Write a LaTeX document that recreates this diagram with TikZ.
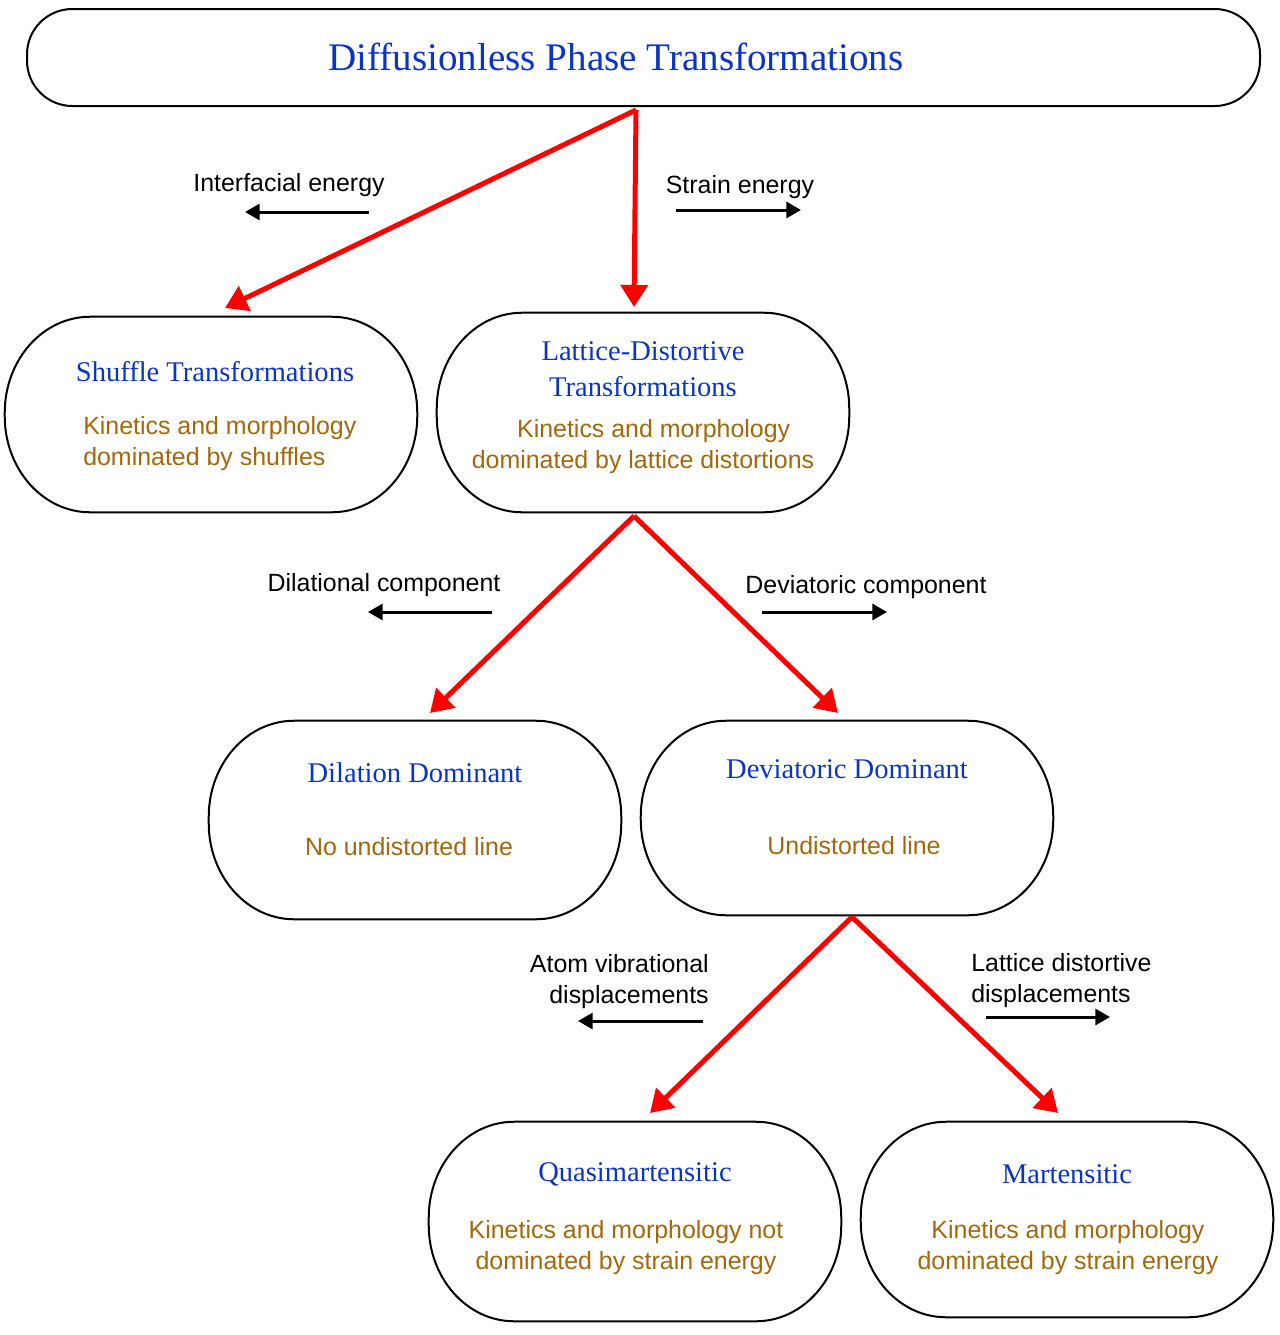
\documentclass[tikz,border=0pt]{standalone}
\usepackage{fontspec}
\setmainfont{Liberation Serif}
\newfontfamily\lsans{Liberation Sans}
\usetikzlibrary{arrows.meta}
\definecolor{tblue}{RGB}{10,52,200}
\definecolor{tbrown}{RGB}{164,103,10}
\newcommand\stadiumbox[1]{%
  \draw[boxline] ([xshift=64pt]#1.north west) -- ([xshift=-64pt]#1.north east)
    arc[start angle=90,end angle=0,x radius=64pt,y radius=72pt]
    -- ([yshift=72pt]#1.south east)
    arc[start angle=0,end angle=-90,x radius=64pt,y radius=72pt]
    -- ([xshift=64pt]#1.south west)
    arc[start angle=270,end angle=180,x radius=64pt,y radius=72pt]
    -- ([yshift=-72pt]#1.north west)
    arc[start angle=180,end angle=90,x radius=64pt,y radius=72pt] -- cycle;}
\begin{document}
\begin{tikzpicture}[x=0.75pt,y=-0.75pt,
  boxline/.style={draw=black,line width=1.5pt},
  box/.style={draw=none,minimum width=309pt,inner sep=0pt},
  ttl/.style={text=tblue,font=\fontsize{21.4}{27}\selectfont,align=center,inner sep=0pt},
  desc/.style={text=tbrown,font=\lsans\fontsize{18.7}{23.25}\selectfont,inner sep=0pt},
  lbl/.style={text=black,font=\lsans\fontsize{18.7}{23.25}\selectfont,inner sep=0pt},
  redarrow/.style={draw=red,line width=3.75pt,-{Triangle[length=16.5pt,width=20pt]}},
  blackarrow/.style={draw=black,line width=2.25pt,-{Triangle[length=11pt,width=12pt]}}]
\useasboundingbox (0,0) rectangle (1280,1335);
% boxes
\node[boxline,rounded corners=34pt,minimum width=924.75pt,minimum height=72.75pt,inner sep=0pt] (title) at (643.5,57.5) {};
\node[box,minimum height=146.25pt] (shuffle) at (211,414.5) {};
\node[box,minimum height=149.25pt] (lattice) at (643,412.5) {};
\node[box,minimum height=148.5pt] (dilation) at (415,820) {};
\node[box,minimum height=145.5pt] (deviatoric) at (847,818) {};
\node[box,minimum height=149.25pt] (quasi) at (635,1221.5) {};
\node[box,minimum height=146.25pt] (mart) at (1067,1219.5) {};
\stadiumbox{shuffle}
\stadiumbox{lattice}
\stadiumbox{dilation}
\stadiumbox{deviatoric}
\stadiumbox{quasi}
\stadiumbox{mart}
% texts
\node[text=tblue,font=\fontsize{29.3}{35}\selectfont,inner sep=0pt] (titletext) at (616,57) {Diffusionless Phase Transformations};
\node[ttl] (shuffleT) at (215,372) {Shuffle Transformations};
\node[desc,align=left,anchor=west] (shuffleD) at (83,443.5) {Kinetics and morphology\\dominated by shuffles};
\node[ttl] (latticeT) at (643,369) {Lattice-Distortive\\Transformations};
\node[desc,align=center] (latticeD) at (643,446.5) {\hspace*{16pt}Kinetics and morphology\\dominated by lattice distortions};
\node[ttl] (dilationT) at (415,773) {Dilation Dominant};
\node[desc] (dilationD) at (409,847) {No undistorted line};
\node[ttl] (deviatoricT) at (847,769) {Deviatoric Dominant};
\node[desc] (deviatoricD) at (854,846) {Undistorted line};
\node[ttl] (quasiT) at (635,1174) {Quasimartensitic};
\node[desc,align=center] (quasiD) at (626,1247.5) {Kinetics and morphology not\\dominated by strain energy};
\node[ttl] (martT) at (1067,1174) {Martensitic};
\node[desc,align=center] (martD) at (1068,1247.5) {Kinetics and morphology\\dominated by strain energy};
% side labels
\node[lbl] (lInter) at (289,185) {Interfacial energy};
\node[lbl] (lStrain) at (740,187) {Strain energy};
\node[lbl] (lDil) at (384,585) {Dilational component};
\node[lbl] (lDev) at (866,587) {Deviatoric component};
\node[lbl,align=right,anchor=east] (lAtom) at (709,981.5) {Atom vibrational\\displacements};
\node[lbl,align=left,anchor=west] (lLat) at (971,980.5) {Lattice distortive\\displacements};
% coordinates
\coordinate (s1) at (636,110);
\coordinate (e1) at (225,308);
\coordinate (e2) at (634,307);
\coordinate (s2) at (634,516);
\coordinate (e3) at (430,713);
\coordinate (e4) at (838,713);
\coordinate (s3) at (852,917);
\coordinate (e5) at (650,1113);
\coordinate (e6) at (1058,1113);
\coordinate (a1s) at (369,212); \coordinate (a1e) at (245,212);
\coordinate (a2s) at (676,210); \coordinate (a2e) at (801,210);
\coordinate (a3s) at (492,612); \coordinate (a3e) at (368,612);
\coordinate (a4s) at (762,612); \coordinate (a4e) at (887,612);
\coordinate (a5s) at (703,1021); \coordinate (a5e) at (578,1021);
\coordinate (a6s) at (986,1017); \coordinate (a6e) at (1110,1017);
% red arrows
\draw[redarrow] (s1) -- (e1);
\draw[redarrow] (s1) -- (e2);
\draw[redarrow] (s2) -- (e3);
\draw[redarrow] (s2) -- (e4);
\draw[redarrow] (s3) -- (e5);
\draw[redarrow] (s3) -- (e6);
% black arrows
\draw[blackarrow] (a1s) -- (a1e);
\draw[blackarrow] (a2s) -- (a2e);
\draw[blackarrow] (a3s) -- (a3e);
\draw[blackarrow] (a4s) -- (a4e);
\draw[blackarrow] (a5s) -- (a5e);
\draw[blackarrow] (a6s) -- (a6e);
\end{tikzpicture}
\end{document}
